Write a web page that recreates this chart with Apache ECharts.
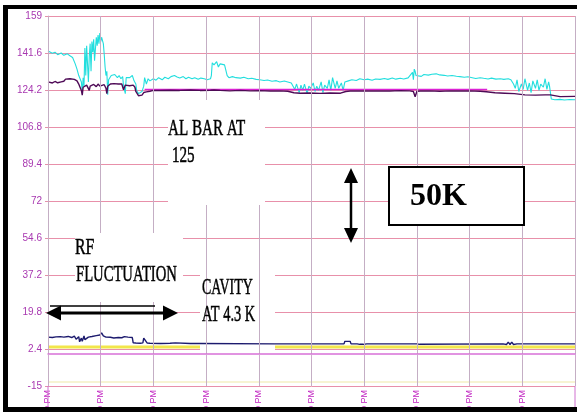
<!DOCTYPE html>
<html>
<head>
<meta charset="utf-8">
<script src="https://cdn.jsdelivr.net/npm/echarts@6/dist/echarts.min.js"></script>
<style>
  html, body { margin: 0; padding: 0; background: #ffffff; }
  #chart { width: 577px; height: 412px; }
</style>
</head>
<body>
<div id="chart"></div>
<script>
// Temperature log: time in minutes from the first hour mark, values in K.
const xTickLabels = ['12:00 PM', '1:00 PM', '2:00 PM', '3:00 PM', '4:00 PM',
                     '5:00 PM', '6:00 PM', '7:00 PM', '8:00 PM', '9:00 PM'];
const yTickLabels = ['-15', '2.4', '19.8', '37.2', '54.6', '72', '89.4', '106.8', '124.2', '141.6', '159'];

// Upper sensor (cyan trace)
const upperSensor = [
  [0,142.5],[5,141.5],[8,142],[11,140.8],[15,141.6],[18,140.5],[22,141.2],[25,140.3],[28,139.5],[31,136.5],
  [33,134],[35,131],[38,128],[39,123],[40,130],[41,126],[42,144],[43,131],[44,145],[46,128],[47,140],[48,146],
  [49,133],[50,147],[51,142],[52,148],[53,138],[55,149],[56,145],[57,150],[58,146],[59,151],[60,147],[61,149],
  [63,146],[64,141],[65,135],[66,131],[67,133],[68,122],[69,129],[72,131],[74,130.5],[76,131.5],[79,130],
  [81,131],[83,129.5],[85,130.5],[86,126],[88,122.5],[89,130],[91,129.5],[93,130],[96,131],[98,128.5],[100,127],
  [101,124],[103,122.5],[105,122.8],[107,123.5],[109,126],[110,130],[112,127],[114,129.5],[116,128.5],[120,129.5],
  [123,128.8],[126,130],[130,129],[133,130.2],[137,129.5],[140,130.5],[144,131],[147,130.3],[150,129.8],[154,130.5],
  [157,129.5],[160,130.2],[164,129.5],[167,130],[171,129.2],[174,129.8],[178,129.5],[181,129],[185,129.5],[186,131],
  [187,137],[189,136],[192,137.5],[194,135],[196,136.5],[198,137],[201,136],[203,136.5],[204,131],[206,130],
  [210,130.5],[214,130],[219,129.8],[223,130.2],[228,129.5],[232,129.7],[237,129.2],[241,129],[246,128.7],
  [250,128.9],[255,128.3],[260,128.6],[264,128],[269,128.4],[273,128],[277,127.5],[279,126],[281,124.5],[283,127],
  [286,123],[288,126.5],[290,124],[292,127],[295,122.5],[297,126],[299,125],[302,127.5],[304,123.5],[306,126],
  [308,124],[311,128],[313,123],[315,126.5],[318,125],[320,129],[322,124],[324,130],[327,125],[329,128.5],
  [331,125],[334,127.5],[336,124],[338,128],[342,128.5],[346,129],[351,128.7],[355,129.5],[360,129],[364,129.3],
  [369,128.8],[373,129.4],[378,129.2],[383,129.6],[387,129.2],[392,129.8],[396,129.3],[401,129.7],[405,129.4],
  [410,129.9],[412,130.5],[415,132.5],[416,129],[417,134],[418,133],[419,131],[421,131.3],[425,130.6],[428,131.5],
  [433,131.2],[437,131.6],[442,131.8],[446,131.3],[451,131.1],[455,130.8],[460,131],[465,130.7],[469,130.5],
  [474,130.2],[478,130.4],[483,130],[487,129.6],[492,130],[496,129.7],[501,129.4],[505,129.8],[510,129.3],
  [515,129.5],[519,129.2],[524,129.5],[527,129],[530,127],[532,125],[534,129],[536,123.5],[539,127],[541,124.5],
  [543,129.5],[546,124],[548,127.5],[550,123],[552,128.5],[555,125],[557,129],[559,124],[561,127],[564,125.5],
  [566,129.5],[568,124.5],[570,128],[571,126],[573,120],[577,119.6],[583,119.8],[588,119.5],[594,119.7],[600,119.6]
];

// Aluminium bar (dark purple trace)
const alBar = [
  [0,128],[5,127.5],[8,128.2],[11,127.6],[15,128],[18,128.3],[20,129.3],[25,129.5],[30,129.2],[33,128.5],
  [35,127],[36,126],[38,124],[39,121.8],[40,125.5],[42,124.8],[44,126.5],[47,124],[48,126],[50,125.5],[52,126.8],
  [55,125.8],[57,127],[59,126],[61,125.5],[64,126.7],[66,125],[67,122.5],[68,126],[71,127],[73,126.2],[75,127.2],
  [77,126.5],[80,127],[82,126.3],[84,127],[86,124.3],[88,126.5],[90,127],[93,126.2],[97,126.5],[99,125.5],
  [100,123.5],[103,121.5],[105,121],[107,121.8],[109,123],[112,123.3],[114,123.8],[116,123.6],[120,124],[128,124],
  [139,124.1],[150,124],[162,124.2],[173,124],[185,124.1],[187,125],[189,124.2],[196,124],[207,123.8],[219,124],
  [230,123.8],[241,123.9],[253,123.7],[264,123.8],[273,123.6],[280,122.9],[287,122.7],[298,122.8],[310,122.6],
  [321,122.8],[333,122.7],[339,123.5],[344,123.7],[355,123.8],[367,123.7],[378,123.8],[389,123.7],[401,123.9],
  [412,123.8],[416,123.5],[418,121],[420,123.6],[424,123.7],[435,123.8],[446,123.6],[458,123.8],[469,123.7],
  [480,123.8],[492,123.6],[499,123.4],[501,122.8],[509,122.9],[520,122.7],[531,122.5],[533,121.8],[543,121.9],
  [555,121.8],[566,121.9],[572,121.9],[573,121.2],[583,121.1],[600,121.2]
];

// Set point of the aluminium bar (magenta trace)
const alSetPoint = [[110,124.4],[300,124.4],[500,124.4]];

// Cavity sensor (navy trace)
const cavity = [
  [0,8],[2,8.5],[5,7.8],[7,8.4],[9,8.1],[11,7.6],[14,8.2],[16,7.5],[18,8],[20,7.7],[23,8.3],[25,7.4],[27,7.8],
  [30,8.5],[32,7],[34,6.3],[35,8.2],[36,5.8],[38,7.5],[39,6],[41,8.5],[42,6.8],[43,7.6],[44,5.9],[46,8],[48,7.2],
  [50,8.3],[52,7.5],[55,8.7],[57,7.8],[59,9],[61,10],[63,8.6],[64,9.2],[66,8],[68,8.8],[71,7.9],[73,8.6],[75,7.6],
  [77,8.4],[80,7.8],[82,8.3],[84,7.7],[87,8.2],[89,7.4],[91,8],[93,7.6],[96,7.8],[97,5.3],[100,5.2],[105,5.1],
  [108,5.3],[109,7.5],[110,8.2],[111,7],[113,5.2],[116,5.1],[128,5.0],[139,5.1],[145,5.3],[146,5.0],[162,5.0],
  [173,5.0],[258,4.8],[270,4.8],[272,5.6],[273,4.8],[337,4.8],[338,6],[344,6],[345,4.8],[352,4.8],[353,5.5],
  [355,4.6],[357,5.5],[359,4.6],[361,5.5],[363,4.8],[420,4.8],[421,5.5],[423,4.6],[425,4.8],[518,4.8],[520,5.6],
  [522,4.5],[524,5.6],[526,4.5],[528,5.6],[530,4.5],[532,5.4],[534,4.8],[549,4.8],[550,5.5],[551,4.8],[600,4.8]
];

// Helium bath reference (yellow) and lower reference (pale yellow)
const heliumRef = [[0,3.3],[600,3.3]];
const lowerRef = [[0,-13.1],[600,-13.1]];

const yMin = -15, yMax = 159, yStep = 17.4;
const xMin = 0, xMax = 600, xStep = 60;

const serifFont = '"Liberation Serif", "Times New Roman", serif';

function label(text, x, y, size, sx, weight) {
  return {
    type: 'text', x: x, y: y, z: 60, scaleX: sx,
    style: { text: text, fill: '#000', stroke: '#000', lineWidth: weight ? 0 : 0.5,
             font: (weight || 'normal') + ' ' + size + 'px ' + serifFont,
             textAlign: 'left', textVerticalAlign: 'middle' }
  };
}
function whiteBox(x, y, w, h, z) {
  return { type: 'rect', z: z, shape: { x: x, y: y, width: w, height: h },
           style: { fill: '#ffffff', stroke: null } };
}
function tri(points) {
  return { type: 'polygon', z: 60, shape: { points: points }, style: { fill: '#000' } };
}
function seg(x1, y1, x2, y2, w, color, z) {
  return { type: 'line', z: z || 60, shape: { x1: x1, y1: y1, x2: x2, y2: y2 },
           style: { stroke: color || '#000', lineWidth: w } };
}

function lineSeries(data, color, width, z) {
  return {
    type: 'line', data: data, showSymbol: false, symbol: 'none',
    lineStyle: { color: color, width: width }, z: z, animation: false
  };
}

const chart = echarts.init(document.getElementById('chart'), null, { renderer: 'canvas' });
chart.setOption({
  backgroundColor: '#ffffff',
  animation: false,
  grid: { left: 48, right: 2, top: 16, bottom: 26, containLabel: false, outerBoundsMode: 'none' },
  xAxis: {
    type: 'value', min: xMin, max: xMax, interval: xStep, z: 4,
    axisLine: { show: true, lineStyle: { color: '#d870d8', width: 1.5 } },
    axisTick: { show: true, length: 6, lineStyle: { color: '#d0a8d0' } },
    splitLine: { show: true, lineStyle: { color: '#c4aec4', width: 1 } },
    axisLabel: {
      rotate: 90, margin: 4, color: '#c020c0', fontSize: 9,
      fontFamily: '"Liberation Sans", Arial, sans-serif',
      formatter: function (v) {
        const i = Math.round((v - xMin) / xStep);
        return i < xTickLabels.length ? xTickLabels[i] : '';
      }
    }
  },
  yAxis: {
    type: 'value', min: yMin, max: yMax, interval: yStep, z: 0,
    axisLine: { show: true, lineStyle: { color: '#d8a8dc', width: 1 } },
    axisTick: { show: true, length: 3, lineStyle: { color: '#e490aa' } },
    splitLine: { show: true, lineStyle: { color: '#e890aa', width: 1 } },
    axisLabel: {
      margin: 6, color: '#a838b0', fontSize: 10,
      fontFamily: '"Liberation Sans", Arial, sans-serif',
      formatter: function (v) {
        const i = Math.round((v - yMin) / yStep);
        return yTickLabels[i] || '';
      }
    }
  },
  series: [
    lineSeries(lowerRef, '#f4f0c4', 1.5, 2),
    lineSeries(heliumRef, '#f2e64a', 3, 2),
    lineSeries(cavity, '#1c1a6e', 1.4, 3),
    lineSeries(upperSensor, '#22dede', 1.1, 2),
    lineSeries(alSetPoint, '#dc22d4', 1.5, 3),
    lineSeries(alBar, '#4e0a56', 1.4, 3)
  ],
  graphic: [
    // note panels
    whiteBox(168, 100, 97, 105, 5),
    whiteBox(75, 233, 108, 69, 5),
    whiteBox(200, 250, 75, 110, 3),
    label('AL BAR AT', 168, 129, 24, 0.63),
    label('125', 172, 156, 24, 0.63),
    label('RF', 75, 248, 24, 0.66),
    label('FLUCTUATION', 76, 275, 24, 0.61),
    label('CAVITY', 202, 288, 24, 0.58),
    label('AT 4.3 K', 202, 315, 24, 0.6),
    // fluctuation span arrow
    seg(50, 306, 155, 306, 1.5),
    seg(56, 313, 168, 313, 3),
    tri([[46, 313], [61, 305.5], [61, 320.5]]),
    tri([[178, 313], [163, 305.5], [163, 320.5]]),
    // 50 K span arrow
    seg(351, 176, 351, 235, 2.5),
    tri([[351, 168], [344, 183], [358, 183]]),
    tri([[351, 243], [344, 228], [358, 228]]),
    { type: 'rect', z: 60, shape: { x: 389, y: 167, width: 135, height: 58 },
      style: { fill: '#ffffff', stroke: '#000', lineWidth: 2 } },
    label('50K', 410, 197, 32, 1, 'bold'),
    // frame
    seg(48, 386, 48, 407, 1, '#d070d0', 50),
    seg(575, 386, 575, 407, 1, '#d070d0', 50),
    { type: 'rect', z: 70, shape: { x: 3, y: 5, width: 5, height: 407 }, style: { fill: '#000' } },
    { type: 'rect', z: 70, shape: { x: 3, y: 5, width: 574, height: 4 }, style: { fill: '#000' } },
    { type: 'rect', z: 70, shape: { x: 3, y: 407, width: 574, height: 5 }, style: { fill: '#000' } }
  ]
});
</script>
</body>
</html>
